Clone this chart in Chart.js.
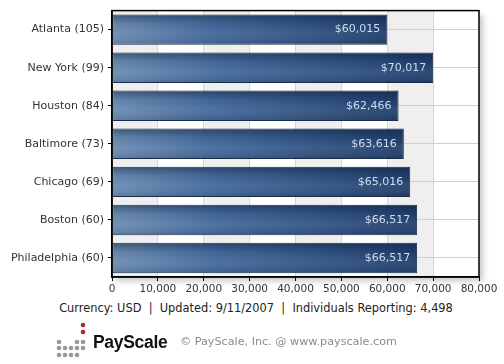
<!DOCTYPE html>
<html>
<head>
<meta charset="utf-8">
<script src="https://cdn.jsdelivr.net/npm/chart.js@4"></script>
<style>
  body { margin: 0; background: #fff; width: 504px; height: 364px; overflow: hidden; font-family: "DejaVu Sans", Verdana, sans-serif; }
  #wrap { position: relative; width: 504px; height: 296px; }
  #info { position: absolute; top: 301px; left: 0; width: 512px; text-align: center; font-size: 11.4px; color: #222; white-space: pre; }
  #logo { position: absolute; top: 322px; left: 56px; width: 40px; height: 40px; }
  #brand { position: absolute; top: 332px; left: 93px; font-family: "Liberation Sans", Arial, sans-serif; font-weight: bold; font-size: 17.5px; color: #111; letter-spacing: -0.3px; }
  #copy { position: absolute; top: 335px; left: 180px; font-size: 11.2px; color: #8a8a8a; }
</style>
</head>
<body>
<div id="wrap"><canvas id="myChart" width="504" height="296"></canvas></div>
<div id="info">Currency: USD  |  Updated: 9/11/2007  |  Individuals Reporting: 4,498</div>
<canvas id="logo" width="40" height="40"></canvas>
<div id="brand">PayScale</div>
<div id="copy">© PayScale, Inc. @ www.payscale.com</div>
<script>
  // Veriler
  const cities = ['Atlanta (105)', 'New York (99)', 'Houston (84)', 'Baltimore (73)', 'Chicago (69)', 'Boston (60)', 'Philadelphia (60)'];
  const salaries = [60015, 70017, 62466, 63616, 65016, 66517, 66517];
  const xTicks = [0, 10000, 20000, 30000, 40000, 50000, 60000, 70000, 80000];

  const fmt = v => v.toLocaleString('en-US');

  // Arka plan şeritleri, gölge ve çerçeve
  const bandsPlugin = {
      id: 'bands',
      beforeDraw(chart) {
          const { ctx, chartArea, scales } = chart;
          const w = chartArea.right - chartArea.left;
          const h = chartArea.bottom - chartArea.top;
          ctx.save();
          ctx.shadowColor = 'rgba(0,0,0,0.22)';
          ctx.shadowBlur = 6;
          ctx.shadowOffsetX = 4;
          ctx.shadowOffsetY = 4;
          ctx.fillStyle = '#fff';
          ctx.fillRect(chartArea.left, chartArea.top, w, h);
          ctx.restore();
          ctx.save();
          for (let i = 0; i < xTicks.length - 1; i += 2) {
              const x1 = scales.x.getPixelForValue(xTicks[i]);
              const x2 = scales.x.getPixelForValue(xTicks[i + 1]);
              ctx.fillStyle = '#efefef';
              ctx.fillRect(x1, chartArea.top, x2 - x1, h);
          }
          ctx.restore();
      },
      afterDraw(chart) {
          const { ctx, chartArea } = chart;
          ctx.save();
          ctx.strokeStyle = '#000';
          ctx.lineWidth = 1.5;
          ctx.strokeRect(chartArea.left, chartArea.top, chartArea.right - chartArea.left, chartArea.bottom - chartArea.top);
          ctx.restore();
      }
  };

  // Çubuk üzerindeki gölge ve değer etiketleri
  const barLabels = {
      id: 'barLabels',
      afterDatasetsDraw(chart) {
          const { ctx } = chart;
          const meta = chart.getDatasetMeta(0);
          ctx.save();
          meta.data.forEach((bar, i) => {
              const top = bar.y - bar.height / 2;
              const left = bar.base;
              const w = bar.x - bar.base;
              const g = ctx.createLinearGradient(0, top, 0, top + bar.height);
              g.addColorStop(0, 'rgba(10,25,50,0.45)');
              g.addColorStop(0.3, 'rgba(10,25,50,0.05)');
              g.addColorStop(0.6, 'rgba(255,255,255,0.06)');
              g.addColorStop(1, 'rgba(10,25,50,0.15)');
              ctx.fillStyle = g;
              ctx.fillRect(left + 1, top + 1, w - 2, bar.height - 2);

              ctx.fillStyle = '#cfdcf0';
              ctx.font = '11px "DejaVu Sans", Verdana, sans-serif';
              ctx.textAlign = 'right';
              ctx.textBaseline = 'middle';
              ctx.fillText('$' + fmt(salaries[i]), bar.x - 7, bar.y);
          });
          ctx.restore();
      }
  };

  const ctx = document.getElementById('myChart');
  const chart = new Chart(ctx, {
      type: 'bar',
      data: {
          labels: cities,
          datasets: [{
              data: salaries,
              backgroundColor: function (c) {
                  const ch = c.chart;
                  if (!ch.chartArea || c.raw === undefined) return '#2d5585';
                  const x0 = ch.scales.x.getPixelForValue(0);
                  const x1 = ch.scales.x.getPixelForValue(c.raw);
                  const g = ch.ctx.createLinearGradient(x0, 0, x1, 0);
                  g.addColorStop(0, '#6b8bb2');
                  g.addColorStop(0.35, '#42689a');
                  g.addColorStop(1, '#203e6b');
                  return g;
              },
              borderColor: '#1a2c48',
              borderWidth: 1,
              borderSkipped: false,
              barPercentage: 0.8,
              categoryPercentage: 1
          }]
      },
      options: {
          indexAxis: 'y',
          responsive: false,
          animation: false,
          layout: { padding: { top: 9, right: 25, left: 0, bottom: 0 } },
          plugins: { legend: { display: false }, tooltip: { enabled: false } },
          scales: {
              x: {
                  min: 0,
                  max: 80000,
                  afterBuildTicks: s => { s.ticks = xTicks.map(v => ({ value: v })); },
                  afterFit: s => { s.height = 19; },
                  ticks: {
                      color: '#333',
                      font: { family: '"DejaVu Sans", Verdana, sans-serif', size: 10.5 },
                      padding: 2,
                      maxRotation: 0,
                      callback: v => fmt(v)
                  },
                  grid: { color: '#d6d6d6', tickColor: '#000', tickLength: 4 },
                  border: { color: '#000', width: 1.5 }
              },
              y: {
                  afterFit: s => { s.width = 112; },
                  ticks: {
                      color: '#333',
                      font: { family: '"DejaVu Sans", Verdana, sans-serif', size: 11 },
                      padding: 4
                  },
                  grid: { offset: false, color: '#d0d0d0', tickColor: '#000', tickLength: 4 },
                  border: { color: '#000', width: 1.5 }
              }
          }
      },
      plugins: [bandsPlugin, barLabels]
  });

  // PayScale logosu noktaları
  const lg = document.getElementById('logo').getContext('2d');
  const dots = [
      [27, 3, '#b4243c'], [27, 10, '#b4243c'],
      [3, 20, '#999'], [21, 20, '#999'], [27, 20, '#999'],
      [3, 26, '#999'], [9, 26, '#999'], [15, 26, '#999'], [21, 26, '#999'], [27, 26, '#999'],
      [3, 33, '#999'], [9, 33, '#999'], [15, 33, '#999'], [21, 33, '#999']
  ];
  dots.forEach(d => {
      lg.fillStyle = d[2];
      lg.beginPath();
      lg.arc(d[0], d[1], 2.3, 0, Math.PI * 2);
      lg.fill();
  });
</script>
</body>
</html>
